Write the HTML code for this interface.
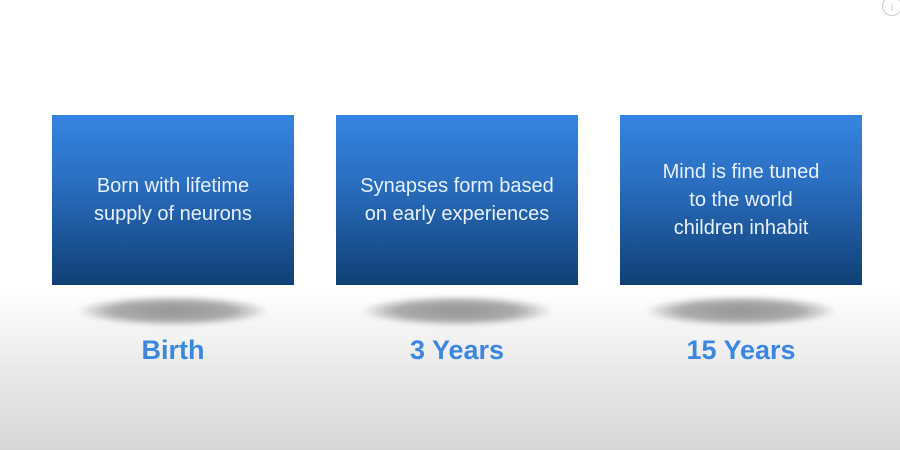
<!DOCTYPE html>
<html><head><style>
body{margin:0;width:900px;height:450px;overflow:hidden;font-family:"Liberation Sans",sans-serif;
background:linear-gradient(to bottom,#fff 0px,#fff 290px,#ececec 360px,#d6d6d6 450px);position:relative}
.box{position:absolute;top:115px;width:242px;height:170px;background:linear-gradient(to bottom,#3585e0 0%,#2a6ec0 40%,#103f75 100%);
color:#e8f0fa;font-size:20px;line-height:28px;text-align:center;display:flex;align-items:center;justify-content:center}
.sh{position:absolute;top:296px;width:190px;height:30px;border-radius:50%;background:radial-gradient(ellipse at center,#959595 0%,#aaaaaa 45%,rgba(200,200,200,0) 72%);filter:blur(2px)}
.lb{position:absolute;top:335px;width:242px;text-align:center;font-weight:bold;font-size:27px;color:#3b87e0}
.info{position:absolute;left:882px;top:-4px;width:18px;height:18px;border:1px solid #ccc;border-radius:50%;color:#ccc;font-size:11px;text-align:center;line-height:22px}
</style></head><body>
<div class="box" style="left:52px">Born with lifetime<br>supply of neurons</div>
<div class="box" style="left:336px">Synapses form based<br>on early experiences</div>
<div class="box" style="left:620px">Mind is fine tuned<br>to the world<br>children inhabit</div>
<div class="sh" style="left:78px"></div>
<div class="sh" style="left:362px"></div>
<div class="sh" style="left:646px"></div>
<div class="lb" style="left:52px">Birth</div>
<div class="lb" style="left:336px">3 Years</div>
<div class="lb" style="left:620px">15 Years</div>
<div class="info">i</div>
</body></html>
